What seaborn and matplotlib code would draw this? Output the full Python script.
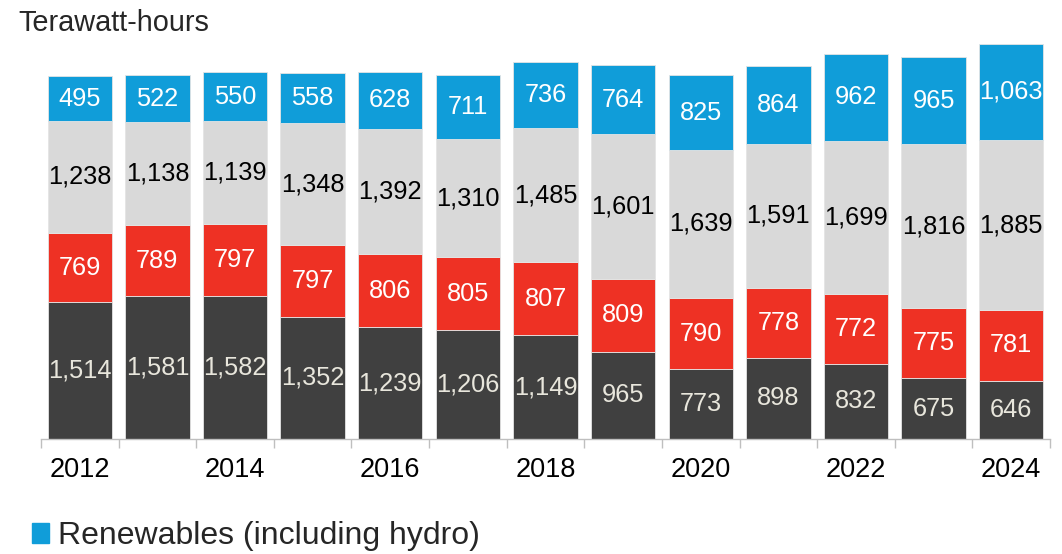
import matplotlib.pyplot as plt
import seaborn as sns
import numpy as np
from matplotlib.patches import Patch

years = [str(y) for y in range(2012, 2025)]
coal = [1514, 1581, 1582, 1352, 1239, 1206, 1149, 965, 773, 898, 832, 675, 646]
nuclear = [769, 789, 797, 797, 806, 805, 807, 809, 790, 778, 772, 775, 781]
gas = [1238, 1138, 1139, 1348, 1392, 1310, 1485, 1601, 1639, 1591, 1699, 1816, 1885]
renewables = [495, 522, 550, 558, 628, 711, 736, 764, 825, 864, 962, 965, 1063]

sns.set_theme(style="white")
plt.rcParams['font.family'] = ['Liberation Sans', 'DejaVu Sans']

fig = plt.figure(figsize=(10.62, 5.54), dpi=100)
ax = fig.add_axes([41 / 1062, 1 - 439 / 554, 1009 / 1062, 395 / 554])

# (name, values, bar colour, label colour), bottom to top
layers = [
    ("Coal", coal, "#404040", "#E8E6DC"),
    ("Nuclear", nuclear, "#EE3124", "white"),
    ("Natural gas", gas, "#D9D9D9", "black"),
    ("Renewables (including hydro)", renewables, "#109DD9", "white"),
]

bottom = np.zeros(len(years))
for name, vals, color, txt in layers:
    sns.barplot(x=years, y=vals, bottom=bottom, color=color, saturation=1,
                width=0.83, edgecolor="#E4E4E4", linewidth=0.6, ax=ax)
    ax.bar_label(ax.containers[-1], labels=[f"{v:,}" for v in vals],
                 label_type="center", color=txt, fontsize=18.3)
    bottom = bottom + np.array(vals)

ax.set_ylim(0, bottom.max())
ax.set_xlim(-0.5, len(years) - 0.5)
ax.set_yticks([])
ax.set_xlabel("")
ax.set_ylabel("")

ax.set_xticks(range(len(years)))
ax.set_xticklabels([y if int(y) % 2 == 0 else "" for y in years])
ax.set_xticks(np.arange(-0.5, len(years), 1), minor=True)
ax.tick_params(axis="x", which="major", length=0, labelsize=19.5, pad=13, colors="black")
ax.tick_params(axis="x", which="minor", bottom=True, length=6.5, width=1, color="#BFBFBF")

for side in ["top", "left", "right"]:
    ax.spines[side].set_visible(False)
ax.spines["bottom"].set_color("#BFBFBF")
ax.spines["bottom"].set_linewidth(1)

fig.text(18 / 1062, 1 - 31 / 554, "Terawatt-hours", fontsize=20.8, va="baseline", ha="left")

fig.legend(handles=[Patch(facecolor="#109DD9", edgecolor="#109DD9", label=layers[3][0])],
           loc="center left", bbox_to_anchor=(32 / 1062, 1 - 536 / 554),
           frameon=False, fontsize=23, handlelength=0.54, handleheight=0.58,
           handletextpad=0.26, borderpad=0, borderaxespad=0)

fig.savefig("out.png", dpi=100)
